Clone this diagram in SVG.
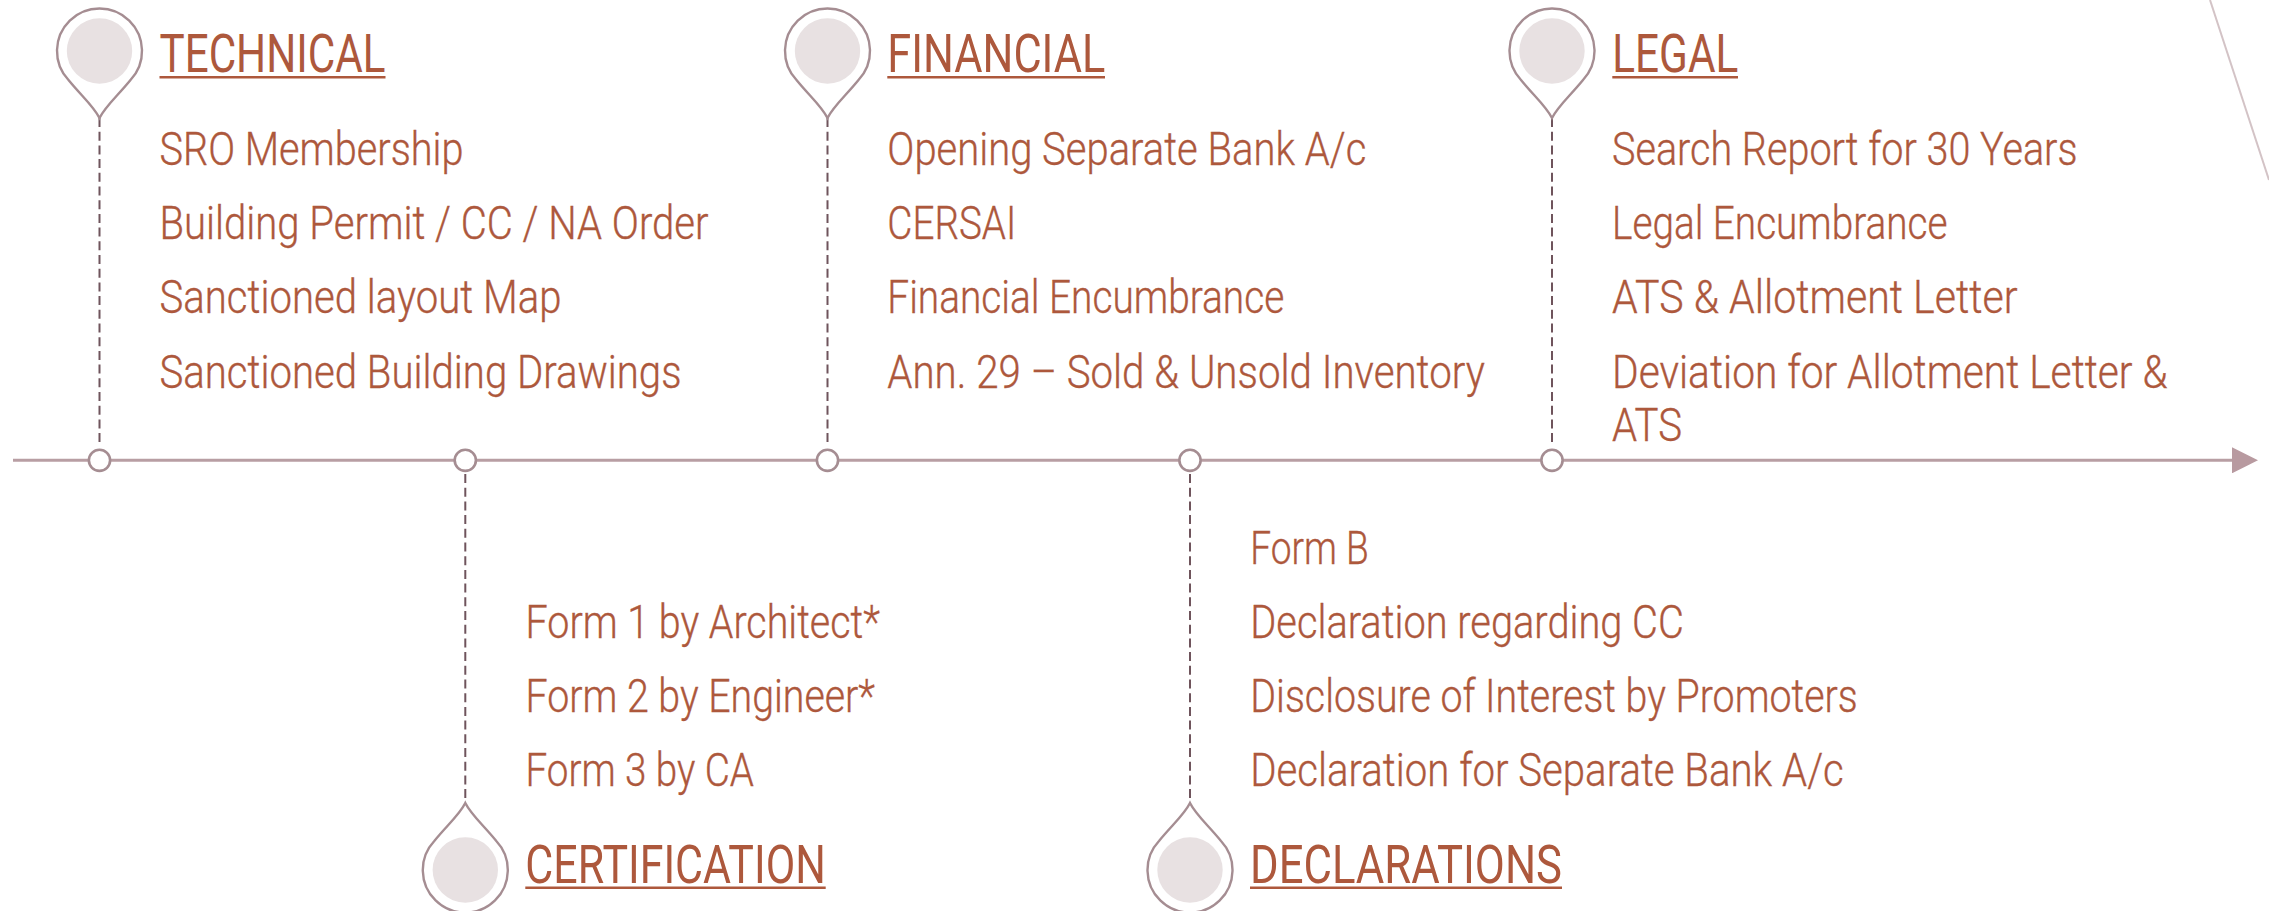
<svg xmlns="http://www.w3.org/2000/svg" width="2269" height="911" viewBox="0 0 2269 911">
<style>
text{font-family:"Roboto","Liberation Sans",sans-serif;fill:#ad583c}
.b{font-size:46.5px;font-weight:300;stroke:#ad583c;stroke-width:.35px}
.h{font-size:54px;font-weight:400}
.ul{stroke:#ad583c;stroke-width:2.6;fill:none}
.pin{fill:#fff;stroke:#a58d92;stroke-width:2.4}
.disk{fill:#e8e1e2}
.dot{fill:#fff;stroke:#a58d92;stroke-width:2.6}
.axis{stroke:#b89ea3;stroke-width:3;fill:none}
.dash{stroke:#6f545c;stroke-width:2;stroke-dasharray:9 4.7;fill:none}
.diag{stroke:#d3c3c6;stroke-width:2;fill:none}
</style>
<defs>
<marker id="arrow" markerUnits="userSpaceOnUse" markerWidth="26" markerHeight="26" refX="0" refY="13" orient="auto"><polygon points="0,0 26,13 0,26" fill="#b89aa0"/></marker>
<g id="pinshape">
<path class="pin" d="M0 67C-6 55-18 45-31 29A42.5 42.5 0 1 1 31 29C18 45 6 55 0 67Z"/>
<circle class="disk" r="32.7"/>
</g>
</defs>
<g id="connectors">
<line class="diag" x1="2210" y1="0" x2="2269" y2="180"/>
<line class="axis" x1="13" y1="460.3" x2="2232" y2="460.3" marker-end="url(#arrow)"/>
<line class="dash" x1="99.5" y1="118" x2="99.5" y2="445"/>
<line class="dash" x1="465.3" y1="474" x2="465.3" y2="802"/>
<line class="dash" x1="827.5" y1="118" x2="827.5" y2="445"/>
<line class="dash" x1="1190" y1="474" x2="1190" y2="802"/>
<line class="dash" x1="1552" y1="118" x2="1552" y2="445"/>
</g>
<g id="node-technical">
<circle class="dot" cx="99.5" cy="460.3" r="10.6"/>
<use href="#pinshape" transform="translate(99.5 51)"/>
<text class="h" x="159.5" y="72" textLength="226" lengthAdjust="spacingAndGlyphs">TECHNICAL</text>
<line class="ul" x1="159.5" y1="77.3" x2="385.5" y2="77.3"/>
<text class="b" x="159.5" y="164.5" textLength="304" lengthAdjust="spacingAndGlyphs">SRO Membership</text>
<text class="b" x="159.5" y="238.5" textLength="549" lengthAdjust="spacingAndGlyphs">Building Permit / CC / NA Order</text>
<text class="b" x="159.5" y="312.5" textLength="402" lengthAdjust="spacingAndGlyphs">Sanctioned layout Map</text>
<text class="b" x="159.5" y="387.5" textLength="522" lengthAdjust="spacingAndGlyphs">Sanctioned Building Drawings</text>
</g>
<g id="node-certification">
<circle class="dot" cx="465.3" cy="460.3" r="10.6"/>
<use href="#pinshape" transform="translate(465.3 870) scale(1 -1)"/>
<text class="b" x="525.5" y="638" textLength="354.5" lengthAdjust="spacingAndGlyphs">Form 1 by Architect*</text>
<text class="b" x="525.5" y="712" textLength="349.5" lengthAdjust="spacingAndGlyphs">Form 2 by Engineer*</text>
<text class="b" x="525.5" y="786" textLength="228.5" lengthAdjust="spacingAndGlyphs">Form 3 by CA</text>
<text class="h" x="525.3" y="883" textLength="300.5" lengthAdjust="spacingAndGlyphs">CERTIFICATION</text>
<line class="ul" x1="525.3" y1="887.7" x2="825.7" y2="887.7"/>
</g>
<g id="node-financial">
<circle class="dot" cx="827.5" cy="460.3" r="10.6"/>
<use href="#pinshape" transform="translate(827.5 51)"/>
<text class="h" x="887.3" y="72" textLength="218" lengthAdjust="spacingAndGlyphs">FINANCIAL</text>
<line class="ul" x1="887.3" y1="77.3" x2="1105" y2="77.3"/>
<text class="b" x="887.3" y="164.5" textLength="479" lengthAdjust="spacingAndGlyphs">Opening Separate Bank A/c</text>
<text class="b" x="887.3" y="238.5" textLength="129" lengthAdjust="spacingAndGlyphs">CERSAI</text>
<text class="b" x="887.3" y="312.5" textLength="397" lengthAdjust="spacingAndGlyphs">Financial Encumbrance</text>
<text class="b" x="887.3" y="387.5" textLength="597.5" lengthAdjust="spacingAndGlyphs">Ann. 29 – Sold &amp; Unsold Inventory</text>
</g>
<g id="node-declarations">
<circle class="dot" cx="1190" cy="460.3" r="10.6"/>
<use href="#pinshape" transform="translate(1190 870) scale(1 -1)"/>
<text class="b" x="1250.3" y="564" textLength="118.5" lengthAdjust="spacingAndGlyphs">Form B</text>
<text class="b" x="1250.3" y="638" textLength="433.5" lengthAdjust="spacingAndGlyphs">Declaration regarding CC</text>
<text class="b" x="1250.3" y="712" textLength="607.5" lengthAdjust="spacingAndGlyphs">Disclosure of Interest by Promoters</text>
<text class="b" x="1250.3" y="786.3" textLength="593.5" lengthAdjust="spacingAndGlyphs">Declaration for Separate Bank A/c</text>
<text class="h" x="1250" y="883" textLength="312" lengthAdjust="spacingAndGlyphs">DECLARATIONS</text>
<line class="ul" x1="1250" y1="887.7" x2="1562" y2="887.7"/>
</g>
<g id="node-legal">
<circle class="dot" cx="1552" cy="460.3" r="10.6"/>
<use href="#pinshape" transform="translate(1552 51)"/>
<text class="h" x="1612.3" y="72" textLength="126" lengthAdjust="spacingAndGlyphs">LEGAL</text>
<line class="ul" x1="1612.3" y1="77.3" x2="1738" y2="77.3"/>
<text class="b" x="1612" y="164.5" textLength="465.5" lengthAdjust="spacingAndGlyphs">Search Report for 30 Years</text>
<text class="b" x="1612" y="238.5" textLength="335.5" lengthAdjust="spacingAndGlyphs">Legal Encumbrance</text>
<text class="b" x="1612" y="312.5" textLength="405.5" lengthAdjust="spacingAndGlyphs">ATS &amp; Allotment Letter</text>
<text class="b" x="1612" y="387.5" textLength="555.5" lengthAdjust="spacingAndGlyphs">Deviation for Allotment Letter &amp;</text>
<text class="b" x="1612" y="441" textLength="70" lengthAdjust="spacingAndGlyphs">ATS</text>
</g>
</svg>
